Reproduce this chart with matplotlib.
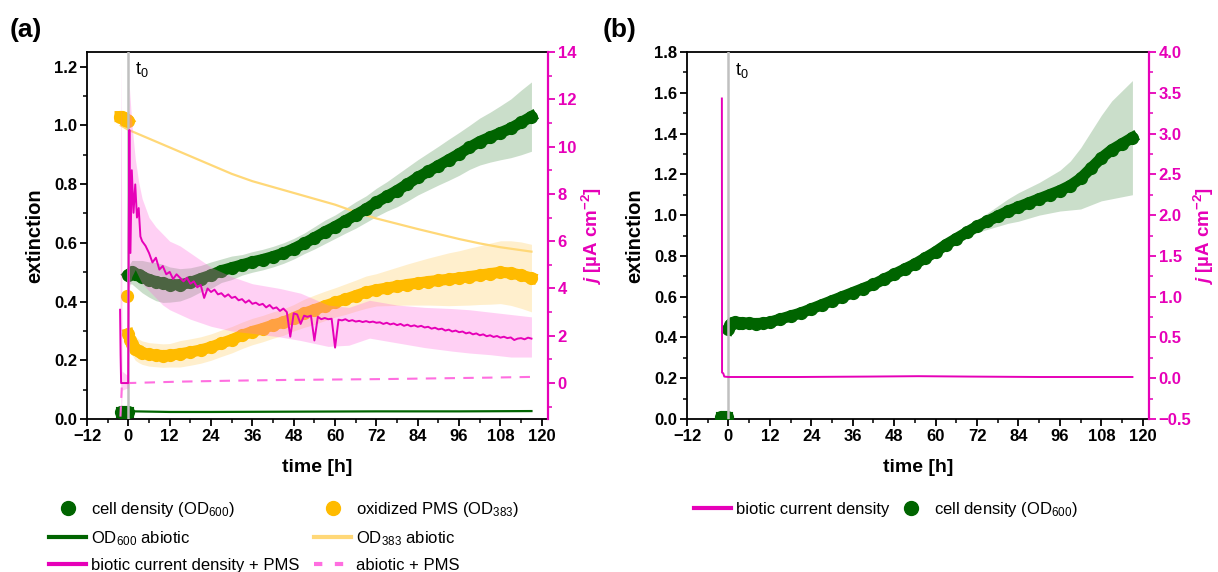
import numpy as np
import matplotlib
matplotlib.use('Agg')
import matplotlib.pyplot as plt
from matplotlib.lines import Line2D
from matplotlib.ticker import MultipleLocator

plt.rcParams['font.family'] = ['Liberation Sans', 'DejaVu Sans']
plt.rcParams['mathtext.fontset'] = 'custom'
plt.rcParams['mathtext.rm'] = 'Liberation Sans'
plt.rcParams['mathtext.it'] = 'Liberation Sans:italic'
plt.rcParams['mathtext.bf'] = 'Liberation Sans:bold'
try:
    plt.rcParams['mathtext.bfit'] = 'Liberation Sans:italic:bold'
except KeyError:
    pass

GREEN = '#006400'
GREEN_BAND = '#b4d0b4'
ORANGE = '#ffbb00'
ORANGE_BAND = '#ffe9b8'
YELLOW = '#ffd878'
MAGENTA = '#e600b8'
PINK = '#ff66dd'
PINK_DASH = '#ff6ee0'
VLINE = '#c0c0c0'

# ---------------- panel (a) data ----------------
t_pre_a = [-2.2, -1.7, -1.2, -0.7, -0.2]
od600_pre_a = [0.025, 0.025, 0.025, 0.025, 0.025]
t_pre_ox = [-2.4, -1.9, -1.4, -0.9, -0.4, 0.0]
od383_pre = [1.03, 1.03, 1.025, 1.02, 1.02, 1.015]

t_bio = [0, 1, 2, 3, 4, 6, 8, 10, 12, 15, 18, 21, 24, 27, 30, 33, 36, 39, 42,
         45, 48, 51, 54, 57, 60, 63, 66, 69, 72, 75, 78, 81, 84, 87, 90, 93,
         96, 99, 102, 105, 108, 111, 114, 117]
od600_a = [0.49, 0.50, 0.495, 0.49, 0.485, 0.475, 0.468, 0.462, 0.458,
           0.457, 0.465, 0.478, 0.49, 0.505, 0.515, 0.525, 0.535, 0.543, 0.553,
           0.565, 0.58, 0.598, 0.617, 0.637, 0.655, 0.675, 0.695, 0.715, 0.738,
           0.758, 0.778, 0.80, 0.823, 0.843, 0.863, 0.883, 0.903, 0.925, 0.945,
           0.96, 0.975, 0.99, 1.01, 1.03]
od600_a_sd = [0.03, 0.04, 0.045, 0.05, 0.055, 0.06, 0.065, 0.065, 0.06,
              0.055, 0.05, 0.045, 0.045, 0.04, 0.04, 0.035, 0.035, 0.035, 0.035,
              0.035, 0.035, 0.035, 0.038, 0.04, 0.04, 0.042, 0.045, 0.045, 0.048,
              0.05, 0.055, 0.058, 0.06, 0.063, 0.066, 0.07, 0.073, 0.075, 0.08,
              0.085, 0.092, 0.10, 0.11, 0.118]

t_ox = [-0.3, 0.0, 0.4, 1, 2, 3, 4, 6, 8, 10, 12, 15, 18, 21, 24, 27, 30, 33,
        36, 39, 42, 45, 48, 51, 54, 57, 60, 63, 66, 69, 72, 75, 78, 81, 84, 87,
        90, 93, 96, 99, 102, 105, 108, 111, 114, 117]
od383_a = [0.42, 0.29, 0.27, 0.255, 0.24, 0.232, 0.226, 0.22, 0.218, 0.216, 0.217,
           0.222, 0.228, 0.235, 0.245, 0.258, 0.27, 0.285, 0.298, 0.308, 0.32,
           0.33, 0.345, 0.36, 0.372, 0.385, 0.397, 0.408, 0.42, 0.432, 0.44,
           0.446, 0.452, 0.458, 0.463, 0.468, 0.472, 0.476, 0.48, 0.485, 0.49,
           0.495, 0.50, 0.497, 0.49, 0.48]
od383_a_sd = [0.0, 0.02, 0.03, 0.035, 0.04, 0.04, 0.04, 0.04, 0.04, 0.04, 0.04,
              0.045, 0.045, 0.045, 0.045, 0.045, 0.045, 0.045, 0.045, 0.045, 0.045,
              0.045, 0.045, 0.048, 0.05, 0.05, 0.05, 0.052, 0.053, 0.055, 0.055,
              0.06, 0.065, 0.07, 0.075, 0.08, 0.085, 0.09, 0.093, 0.097, 0.1,
              0.104, 0.107, 0.11, 0.113, 0.115]

t_abio383 = [-2.2, 0, 6, 12, 18, 24, 30, 36, 42, 48, 54, 60, 66, 72, 78, 84, 90,
             96, 102, 108, 114, 117]
od383_abio = [1.0, 0.985, 0.955, 0.925, 0.895, 0.865, 0.835, 0.81, 0.79, 0.77,
              0.75, 0.73, 0.705, 0.683, 0.665, 0.647, 0.63, 0.613, 0.598, 0.585,
              0.575, 0.57]

t_abio600 = [0, 2, 12, 24, 48, 72, 96, 117]
od600_abio = [0.03, 0.026, 0.024, 0.024, 0.025, 0.026, 0.026, 0.027]

t_cur = [-2.4, -2.25, -2.1, -0.05, 0.1, 0.3, 0.6, 1.0, 1.5, 2.0, 2.5, 3.0, 3.5,
         4.0] + list(range(5, 118))
j_cur = [3.1, 1.2, 0.0, 0.0, 6.0, 10.7, 5.5, 9.0, 7.2, 8.4, 7.0, 7.4, 6.2, 6.0,
         5.8, 5.5, 5.1, 5.3, 4.8, 4.95, 4.6, 4.7, 4.4, 4.6,
         4.45, 4.3, 4.45, 4.2, 4.3, 4.05, 4.15, 3.6, 4.0, 3.85,
         3.95, 3.75, 3.8, 3.65, 3.75, 3.6, 3.65, 3.5, 3.55, 3.4,
         3.5, 3.35, 3.4, 3.3, 3.35, 3.2, 3.3, 3.15, 3.2, 3.05,
         3.15, 3.0, 1.96, 2.95, 2.9, 2.5, 2.85, 2.8, 2.85, 1.8,
         2.8, 2.7, 2.75, 2.7, 2.72, 1.5, 2.68, 2.65, 2.7, 2.62,
         2.66, 2.6, 2.63, 2.58, 2.62, 2.57, 2.6, 2.55, 2.57, 2.5,
         2.55, 2.48, 2.52, 2.45, 2.5, 2.42, 2.47, 2.4, 2.44, 2.38,
         2.42, 2.35, 2.38, 2.3, 2.34, 2.27, 2.3, 2.22, 2.26, 2.18,
         2.22, 2.15, 2.18, 2.1, 2.14, 2.06, 2.1, 2.02, 2.06, 1.98,
         2.02, 1.95, 1.99, 1.92, 1.96, 1.9, 1.93, 1.82, 1.88, 1.9,
         1.85, 1.92, 1.88]

t_cur_band = [-2.4, -2.1, -1.8, -0.05, 0.3, 1, 2, 3, 4, 6, 8, 10, 12, 15, 18, 24,
              30, 36, 44, 50, 58, 64, 70, 78, 86, 94, 99, 105, 111, 117]
j_cur_hi = [3.3, 13.6, 0.5, 0.3, 12.5, 11.0, 9.5, 8.5, 7.8, 7.0, 6.6, 6.3, 6.0,
            5.8, 5.5, 4.9, 4.5, 4.2, 4.0, 3.8, 3.3, 3.2, 3.5, 3.3, 3.2, 3.15,
            3.1, 3.0, 2.9, 2.8]
j_cur_lo = [2.5, -1.5, -0.3, -0.2, 4.0, 4.5, 4.8, 4.5, 4.2, 3.9, 3.6, 3.3, 3.1,
            2.9, 2.7, 2.4, 2.2, 2.1, 1.95, 1.8, 1.55, 1.6, 1.9, 1.7, 1.5, 1.35,
            1.27, 1.2, 1.1, 1.1]

t_abio_cur = [-2.3, -1.85, 0, 15, 30, 45, 60, 75, 90, 105, 117]
j_abio = [-1.42, 0.0, 0.0, 0.06, 0.1, 0.13, 0.15, 0.17, 0.2, 0.23, 0.26]

# ---------------- panel (b) data ----------------
t_pre_b = [-2.2, -1.6, -1.0, -0.4]
od600_pre_b = [0.01, 0.01, 0.01, 0.01]
t_bio_b = [0, 0.5, 1, 2, 3, 4, 6, 8, 10, 12, 15, 18, 21, 24, 27, 30, 33, 36,
           39, 42, 45, 48, 51, 54, 57, 60, 63, 66, 69, 72, 75, 78, 81, 84, 87,
           90, 93, 96, 99, 102, 105, 108, 111, 114, 117]
od600_b = [0.44, 0.46, 0.47, 0.475, 0.47, 0.472, 0.47, 0.468, 0.47, 0.475,
           0.49, 0.505, 0.52, 0.54, 0.56, 0.58, 0.60, 0.62, 0.64, 0.66,
           0.685, 0.71, 0.735, 0.76, 0.79, 0.82, 0.855, 0.885, 0.915, 0.945,
           0.97, 0.995, 1.02, 1.04, 1.06, 1.08, 1.10, 1.12, 1.145, 1.18,
           1.23, 1.28, 1.32, 1.35, 1.38]
od600_b_sd = [0.02, 0.015, 0.015, 0.015, 0.015, 0.015, 0.015, 0.015, 0.015, 0.015,
              0.015, 0.015, 0.015, 0.015, 0.015, 0.015, 0.015, 0.015, 0.015, 0.015,
              0.015, 0.015, 0.015, 0.015, 0.015, 0.015, 0.017, 0.02, 0.025, 0.03,
              0.04, 0.05, 0.06, 0.07, 0.075, 0.08, 0.09, 0.10, 0.12, 0.15,
              0.18, 0.21, 0.24, 0.26, 0.28]
t_cur_b = [-1.9, -1.85, -1.5, -1.2, 0, 20, 40, 55, 70, 90, 117]
j_cur_b = [3.43, 0.07, 0.06, 0.02, 0.015, 0.015, 0.02, 0.025, 0.02, 0.015, 0.015]

xticks = [-12, 0, 12, 24, 36, 48, 60, 72, 84, 96, 108, 120]

W, H = 1218, 572
fig = plt.figure(figsize=(W / 100, H / 100), dpi=100)
axA = fig.add_axes([87 / W, 1 - 419 / H, (548 - 87) / W, (419 - 52) / H])
axB = fig.add_axes([687 / W, 1 - 419 / H, (1149 - 687) / W, (419 - 52) / H])
axA2 = axA.twinx()
axB2 = axB.twinx()


def style(ax, ax2, ymax, ymaj, jlim, jmaj, ylab_x, jlab_x):
    ax.set_xlim(-12, 121.8)
    ax.set_ylim(0, ymax)
    ax.set_xticks(xticks)
    ax.xaxis.set_minor_locator(MultipleLocator(6))
    ax.yaxis.set_major_locator(MultipleLocator(ymaj))
    ax.yaxis.set_minor_locator(MultipleLocator(ymaj / 2))
    ax.tick_params(which='major', direction='out', length=5, width=1.3,
                   labelsize=12, pad=2)
    ax.tick_params(which='minor', direction='out', length=3, width=1.1)
    for s in ax.spines.values():
        s.set_linewidth(1.3)
    ax.spines['right'].set_visible(False)
    ax.set_xlabel('time [h]', fontsize=14, fontweight='bold', labelpad=11)
    ax.set_ylabel('extinction', fontsize=14.5, fontweight='bold')
    ax.yaxis.set_label_coords(ylab_x, 0.5)
    ax.yaxis.label.set_va('center')
    ax2.set_ylim(*jlim)
    ax2.yaxis.set_major_locator(MultipleLocator(jmaj))
    ax2.yaxis.set_minor_locator(MultipleLocator(jmaj / 2))
    ax2.tick_params(which='major', direction='out', length=5, width=1.3,
                    labelsize=12, colors=MAGENTA, pad=2)
    ax2.tick_params(which='minor', direction='out', length=3, width=1.1,
                    colors=MAGENTA)
    for k in ('left', 'top', 'bottom'):
        ax2.spines[k].set_visible(False)
    ax2.spines['right'].set_color(MAGENTA)
    ax2.spines['right'].set_linewidth(1.6)
    ax2.set_ylabel(r'$\mathbfit{j}$ [µA cm$^{\mathbf{-2}}$]', fontsize=13.5,
                   fontweight='bold', color=MAGENTA)
    ax2.yaxis.set_label_coords(jlab_x, 0.5)
    ax2.yaxis.label.set_va('center')
    for lbl in ax.get_xticklabels() + ax.get_yticklabels() + ax2.get_yticklabels():
        lbl.set_fontweight('bold')


style(axA, axA2, 1.25, 0.2, (-1.52, 14), 2, (35 - 87) / 461, (592 - 87) / 461)
style(axB, axB2, 1.8, 0.2, (-0.5, 4.0), 0.5, (635 - 687) / 462, (1204 - 687) / 462)

# ---------------- panel (a) ----------------
lo = np.array(od600_a) - np.array(od600_a_sd)
hi = np.array(od600_a) + np.array(od600_a_sd)
axA.fill_between(t_bio, lo, hi, color=GREEN_BAND, alpha=0.7, lw=0, zorder=1)
lo = np.array(od383_a) - np.array(od383_a_sd)
hi = np.array(od383_a) + np.array(od383_a_sd)
axA.fill_between(t_ox, lo, hi, color=ORANGE_BAND, alpha=0.7, lw=0, zorder=1)
axA.plot(t_abio383, od383_abio, color=YELLOW, lw=1.6, zorder=2)
axA.plot(t_abio600, od600_abio, color=GREEN, lw=1.6, zorder=2)
axA.plot(t_pre_ox, od383_pre, 'o-', color=ORANGE, ms=8.5, lw=8, zorder=3)
axA.plot(t_ox[:1], od383_a[:1], 'o', color=ORANGE, ms=8.5, zorder=3)
axA.plot(t_ox[1:], od383_a[1:], 'o-', color=ORANGE, ms=8.5, lw=8, zorder=3)
axA.plot(t_pre_a, od600_pre_a, 'o-', color=GREEN, ms=8.5, lw=8, zorder=4)
axA.plot(t_bio, od600_a, 'o-', color=GREEN, ms=8.5, lw=8, zorder=4)
axA.axvline(0, color=VLINE, lw=1.8, zorder=5)
axA.text(1.8, 1.19, r't$_0$', fontsize=13, va='center')

axA2.fill_between(t_cur_band, j_cur_lo, j_cur_hi, color=PINK, alpha=0.3,
                  lw=0, zorder=1)
axA2.plot(t_abio_cur, j_abio, color=PINK_DASH, lw=1.5, ls=(0, (5, 4)), zorder=2)
axA2.plot(t_cur, j_cur, color=MAGENTA, lw=1.4, zorder=3)

# ---------------- panel (b) ----------------
lo = np.array(od600_b) - np.array(od600_b_sd)
hi = np.array(od600_b) + np.array(od600_b_sd)
axB.fill_between(t_bio_b, lo, hi, color=GREEN_BAND, alpha=0.7, lw=0, zorder=1)
axB.plot(t_pre_b, od600_pre_b, 'o-', color=GREEN, ms=8.5, lw=8, zorder=4)
axB.plot(t_bio_b, od600_b, 'o-', color=GREEN, ms=8.5, lw=8, zorder=4)
axB.axvline(0, color=VLINE, lw=1.8, zorder=5)
axB.text(1.8, 1.71, r't$_0$', fontsize=13, va='center')
axB2.plot(t_cur_b, j_cur_b, color=MAGENTA, lw=1.4, zorder=3)

# ---------------- legends ----------------
dot = dict(marker='o', ls='none', ms=10)
hA = [Line2D([], [], color=GREEN, **dot),
      Line2D([], [], color=GREEN, lw=3),
      Line2D([], [], color=MAGENTA, lw=3),
      Line2D([], [], color=ORANGE, **dot),
      Line2D([], [], color=YELLOW, lw=3),
      Line2D([], [], color=PINK_DASH, lw=3, ls=(0, (2, 3)))]
lA = ['cell density (OD$_{600}$)', 'OD$_{600}$ abiotic',
      'biotic current density + PMS', 'oxidized PMS (OD$_{383}$)',
      'OD$_{383}$ abiotic', 'abiotic + PMS']
fig.legend(hA, lA, ncol=2, loc='upper left', bbox_to_anchor=(41 / W, 1 - 492 / H),
           frameon=False, fontsize=12, handlelength=2.2, handletextpad=0.3,
           columnspacing=0.9, labelspacing=0.6, borderpad=0)

hB = [Line2D([], [], color=MAGENTA, lw=3), Line2D([], [], color=GREEN, **dot)]
lB = ['biotic current density', 'cell density (OD$_{600}$)']
fig.legend(hB, lB, ncol=2, loc='upper left', bbox_to_anchor=(686 / W, 1 - 492 / H),
           frameon=False, fontsize=12, handlelength=2.2, handletextpad=0.3,
           columnspacing=0.2, borderpad=0)

fig.text(10 / W, 1 - 30 / H, '(a)', fontsize=19, fontweight='bold', va='center')
fig.text(603 / W, 1 - 30 / H, '(b)', fontsize=19, fontweight='bold', va='center')

fig.savefig('out.png', dpi=100)
